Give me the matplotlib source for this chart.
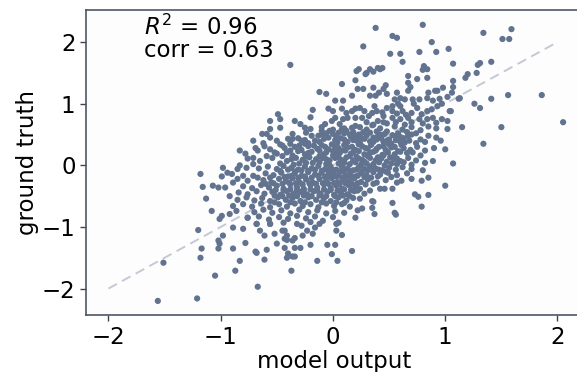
import matplotlib
matplotlib.use("Agg")
import matplotlib.pyplot as plt

# (model output, ground truth) pairs, grouped by region
upper_tail = [
    (-0.38,1.63),(0.38,2.23),(0.80,2.28),(0.53,2.10),(0.57,2.07),(0.88,2.00),(0.27,1.93),(1.34,2.15),
    (1.51,2.05),(1.57,2.05),(1.59,2.21),(0.51,1.81),(0.60,1.81),(0.62,1.68),(0.77,1.84),(0.92,1.84),
    (1.03,1.89),(1.07,1.65),(0.81,1.61),(0.84,1.56),(0.80,1.55),(1.31,1.66),(1.29,1.63),(1.41,1.68),
    (0.21,1.53),(0.23,1.56),(0.29,1.48),(0.33,1.56),(0.36,1.52),(0.42,1.56),(0.40,1.58),(0.44,1.58),
    (0.30,1.50),(0.08,1.32),(0.20,1.38),(0.22,1.24),(0.67,1.45),(0.75,1.40),(0.84,1.42),(0.67,1.34),
    (0.69,1.27),(0.67,1.21),(1.07,1.37),(1.07,1.27),(1.18,1.42),(1.20,1.48),(1.28,1.50),(0.98,1.26),
    (0.91,1.21),(0.85,1.18),(0.93,1.21),(-0.12,1.19),(-0.06,1.16),(0.17,1.13),(0.02,1.05),(0.09,1.05),
    (0.45,1.24),(0.48,1.16),(0.57,1.18),(0.60,1.09),(0.55,1.07),(0.64,1.07),(0.71,1.07),(0.77,1.07),
    (0.84,1.09),(0.89,1.05),(0.95,1.08),(1.02,1.11),(1.06,1.18),(1.13,1.09),(0.27,1.24),(0.33,1.13),
    (0.38,1.13),(0.36,1.26),(0.41,1.18),(0.47,1.30),(1.12,1.08),(1.26,1.00),(1.31,0.93),(1.41,1.08),
    (1.56,1.14),(1.86,1.14),(1.05,0.88),(2.05,0.70),(1.50,0.62),(1.15,0.62),(1.02,0.59),(1.34,0.35),
    (1.07,0.03),(1.00,-0.33),
]

core_upper = [
    (-0.18,0.90),(-0.04,0.92),(0.00,0.88),(0.08,0.92),(0.12,0.85),(0.17,0.88),(0.20,0.92),(0.24,0.93),
    (0.28,0.88),(0.37,0.96),(0.39,0.88),(0.48,0.93),(0.53,0.96),(0.58,1.00),(0.53,0.88),(0.62,0.88),
    (0.75,0.93),(0.79,0.83),(0.84,0.88),(0.88,0.91),(0.93,0.96),(0.97,1.00),(1.04,0.88),
    (-0.49,0.83),(-0.47,0.75),(-0.56,0.72),(-0.34,0.72),(-0.29,0.67),(-0.20,0.78),(-0.07,0.67),(-0.01,0.72),
    (0.02,0.77),(0.06,0.67),(0.09,0.75),(0.13,0.77),(0.20,0.77),(0.26,0.77),(0.32,0.80),(0.40,0.72),
    (0.45,0.80),(0.53,0.77),(0.60,0.75),(0.67,0.77),(0.70,0.70),(0.77,0.75),(0.84,0.75),(0.89,0.77),
    (0.97,0.75),(1.02,0.72),(0.30,0.70),(0.36,0.66),(0.48,0.68),(0.56,0.70),(0.64,0.66),(0.80,0.68),(0.92,0.69),
    (-0.47,0.61),(-0.56,0.59),(-0.25,0.61),(-0.20,0.59),(-0.10,0.62),(0.00,0.58),(0.10,0.60),(0.17,0.61),
    (0.20,0.64),(0.24,0.62),(0.30,0.58),(0.35,0.65),(0.42,0.60),(0.48,0.55),(0.55,0.63),(0.62,0.58),
    (0.70,0.62),(0.78,0.57),(0.85,0.63),(0.92,0.60),(0.39,0.55),(0.58,0.52),(0.66,0.54),(0.74,0.52),(0.27,0.54),
    (-0.63,0.51),(-0.59,0.51),(-0.36,0.51),(-0.40,0.43),(-0.36,0.43),(-0.19,0.48),(-0.13,0.48),(-0.10,0.56),
    (-0.06,0.52),(-0.03,0.56),(0.00,0.51),(0.05,0.53),(0.08,0.59),(0.12,0.56),(0.15,0.50),(0.20,0.47),
    (0.25,0.45),(0.30,0.48),(0.36,0.45),(0.42,0.50),(0.50,0.42),(0.56,0.47),(0.63,0.44),(0.70,0.50),
    (0.78,0.42),(0.85,0.48),(0.92,0.45),(0.45,0.38),(0.52,0.35),(0.60,0.38),(0.68,0.40),(0.74,0.36),
    (0.82,0.38),(-0.71,0.40),(-0.62,0.36),(-0.56,0.45),(-0.50,0.40),(-0.45,0.32),(-0.38,0.35),(-0.28,0.40),
    (-0.22,0.36),(-0.16,0.40),(-0.08,0.43),(0.02,0.41),(0.07,0.44),(0.13,0.38),(0.18,0.41),(0.24,0.37),
    (0.33,0.39),(0.39,0.42),(0.96,0.40),
    (-0.83,0.24),(-0.78,0.19),(-0.69,0.28),(-0.67,0.24),(-0.61,0.31),(-0.56,0.26),(-0.52,0.21),(-0.50,0.19),
    (-0.43,0.28),(-0.38,0.24),(-0.34,0.30),(-0.28,0.25),(-0.22,0.31),(-0.19,0.22),(-0.14,0.27),(-0.10,0.33),
    (-0.04,0.26),(0.02,0.30),(0.08,0.24),(0.13,0.29),(0.20,0.25),(0.26,0.31),(0.31,0.27),(0.36,0.22),
    (0.41,0.30),(0.47,0.25),(0.52,0.29),(0.58,0.23),(0.63,0.28),(0.69,0.25),(0.75,0.30),(0.82,0.24),
    (0.90,0.28),(1.00,0.26),(0.04,0.20),(0.16,0.19),(0.28,0.18),(0.44,0.17),(0.55,0.18),(0.66,0.20),
    (0.78,0.16),(-0.08,0.18),(-0.25,0.18),(-0.36,0.16),
    (-0.76,0.11),(-0.71,0.12),(-0.65,0.07),(-0.59,0.15),(-0.54,0.12),(-0.45,0.15),(-0.41,0.07),(-0.33,0.12),
    (-0.27,0.09),(-0.21,0.13),(-0.15,0.10),(-0.09,0.12),(-0.03,0.08),(0.02,0.12),(0.07,0.09),(0.12,0.13),
    (0.18,0.08),(0.23,0.11),(0.28,0.06),(0.33,0.12),(0.38,0.08),(0.43,0.11),(0.48,0.06),(0.54,0.10),
    (0.60,0.07),(0.67,0.12),(0.74,0.08),(0.82,0.04),(0.89,0.07),(-0.30,0.03),(-0.18,0.04),(-0.06,0.02),
    (0.05,0.03),(0.15,0.02),(0.25,0.01),(0.36,0.02),(0.46,0.00),(0.57,0.02),(0.70,0.01),
    (0.44,0.86),(0.60,0.96),(0.70,0.85),(0.72,1.00),(0.65,0.82),(0.35,0.85),(0.45,0.70),(0.57,0.84),
]

core_dense = [
    (-0.24,0.53),(-0.09,0.50),(0.03,0.47),(0.10,0.52),(0.18,0.54),(0.23,0.50),(0.33,0.53),(0.40,0.47),
    (0.46,0.51),(0.53,0.49),(0.60,0.46),(0.67,0.48),
    (-0.31,0.44),(-0.25,0.41),(-0.12,0.38),(-0.04,0.45),(0.04,0.37),(0.10,0.42),(0.16,0.46),(0.21,0.40),
    (0.28,0.43),(0.36,0.38),(0.43,0.44),(0.48,0.40),(0.56,0.41),(0.64,0.37),
    (-0.47,0.34),(-0.30,0.32),(-0.25,0.35),(-0.17,0.32),(-0.07,0.30),(-0.01,0.34),(0.05,0.28),(0.10,0.33),
    (0.17,0.30),(0.23,0.34),(0.29,0.28),(0.34,0.33),(0.39,0.27),(0.45,0.31),(0.50,0.34),(0.55,0.30),(0.61,0.33),
    (-0.41,0.21),(-0.31,0.23),(-0.22,0.20),(-0.12,0.24),(-0.06,0.21),(0.00,0.23),(0.06,0.20),(0.11,0.24),
    (0.18,0.21),(0.23,0.23),(0.33,0.20),(0.38,0.24),(0.49,0.21),(0.60,0.22),(0.71,0.21),
    (-0.37,0.10),(-0.24,0.14),(-0.12,0.15),(-0.06,0.10),(0.00,0.16),(0.05,0.13),(0.10,0.08),(0.15,0.15),
    (0.21,0.14),(0.26,0.09),(0.31,0.15),(0.40,0.13),(0.45,0.16),(0.51,0.13),(0.57,0.11),
    (-0.47,0.03),(-0.35,0.01),(-0.24,0.04),(-0.12,0.05),(-0.03,0.00),(0.10,0.04),(0.20,0.05),(0.30,0.03),
    (0.41,0.05),(0.52,0.03),(0.63,0.05),
    (-0.47,-0.09),(-0.40,-0.07),(-0.34,-0.10),(-0.28,-0.08),(-0.22,-0.09),(-0.16,-0.07),(-0.10,-0.09),(-0.04,-0.10),
    (0.01,-0.08),(0.06,-0.10),(0.11,-0.08),(0.16,-0.10),(0.21,-0.07),(0.26,-0.10),(0.31,-0.08),(0.36,-0.09),
    (0.41,-0.07),(0.47,-0.10),
    (-0.56,-0.20),(-0.43,-0.19),(-0.37,-0.17),(-0.31,-0.20),(-0.25,-0.18),(-0.19,-0.20),(-0.13,-0.17),(-0.07,-0.19),
    (-0.02,-0.20),(0.03,-0.18),(0.08,-0.20),(0.12,-0.18),(0.17,-0.20),(0.22,-0.17),(0.28,-0.19),(0.34,-0.20),
    (0.40,-0.18),(0.52,-0.19),
    (-0.60,-0.30),(-0.53,-0.29),(-0.45,-0.30),(-0.39,-0.28),(-0.33,-0.29),(-0.27,-0.31),(-0.21,-0.29),(-0.15,-0.30),
    (-0.09,-0.29),(-0.04,-0.30),(0.01,-0.29),(0.06,-0.30),(0.11,-0.29),(0.17,-0.30),(0.22,-0.29),(0.29,-0.31),(0.36,-0.30),
    (-0.51,-0.40),(-0.44,-0.41),(-0.38,-0.39),(-0.32,-0.40),(-0.26,-0.40),(-0.20,-0.39),(-0.14,-0.41),(-0.08,-0.39),
    (-0.02,-0.40),(0.04,-0.41),(0.10,-0.39),(0.16,-0.40),(0.22,-0.41),
    (-0.52,-0.49),(-0.45,-0.50),(-0.39,-0.49),(-0.32,-0.50),(-0.26,-0.49),(-0.19,-0.50),(-0.12,-0.49),(-0.06,-0.50),
    (0.02,-0.50),(0.09,-0.49),(0.15,-0.50),
    (-0.52,-0.60),(-0.38,-0.60),(-0.25,-0.60),(-0.10,-0.60),(0.03,-0.60),(0.10,-0.61),
]

core_lower = [
    (-0.98,-0.04),(-0.83,0.00),(-0.77,-0.04),(-0.71,0.02),(-0.85,-0.06),(-0.94,-0.12),(-0.66,-0.05),(-0.58,-0.02),
    (-0.50,-0.06),(-0.44,-0.01),(-0.37,-0.04),(-0.31,-0.07),(-0.25,-0.02),(-0.19,-0.05),(-0.13,-0.01),(-0.07,-0.06),
    (-0.02,-0.03),(0.03,-0.07),(0.08,-0.02),(0.13,-0.05),(0.18,-0.08),(0.23,-0.03),(0.28,-0.06),(0.33,-0.02),
    (0.38,-0.05),(0.44,-0.08),(0.50,-0.04),(0.56,-0.07),(0.62,-0.03),(0.70,-0.06),(0.80,-0.08),
    (-1.18,-0.14),(-0.99,-0.18),(-0.90,-0.14),(-0.80,-0.17),(-0.71,-0.17),(-0.67,-0.20),(-0.60,-0.13),(-0.53,-0.16),
    (-0.46,-0.12),(-0.40,-0.18),(-0.34,-0.13),(-0.28,-0.17),(-0.22,-0.11),(-0.16,-0.15),(-0.10,-0.12),(-0.05,-0.17),
    (0.00,-0.13),(0.05,-0.16),(0.10,-0.11),(0.15,-0.15),(0.20,-0.18),(0.25,-0.13),(0.30,-0.16),(0.36,-0.11),
    (0.42,-0.15),(0.49,-0.12),(0.57,-0.16),(0.66,-0.13),(0.70,-0.22),(0.85,-0.20),
    (-0.89,-0.28),(-0.85,-0.22),(-0.76,-0.25),(-0.62,-0.24),(-0.55,-0.28),(-0.48,-0.22),(-0.42,-0.26),(-0.36,-0.21),
    (-0.30,-0.27),(-0.24,-0.23),(-0.18,-0.28),(-0.12,-0.22),(-0.06,-0.26),(-0.01,-0.21),(0.04,-0.27),(0.09,-0.23),
    (0.14,-0.26),(0.19,-0.21),(0.25,-0.27),(0.31,-0.23),(0.39,-0.28),(0.47,-0.24),(0.57,-0.28),(0.61,-0.25),(0.79,-0.25),
    (-1.16,-0.35),(-1.07,-0.33),(-1.02,-0.36),(-0.96,-0.36),(-0.80,-0.34),(-0.72,-0.37),(-0.64,-0.32),(-0.57,-0.36),
    (-0.50,-0.33),(-0.44,-0.38),(-0.38,-0.31),(-0.32,-0.35),(-0.26,-0.38),(-0.20,-0.32),(-0.14,-0.36),(-0.08,-0.31),
    (-0.02,-0.37),(0.03,-0.33),(0.08,-0.38),(0.14,-0.32),(0.20,-0.36),(0.24,-0.38),(0.33,-0.41),(0.42,-0.38),
    (0.46,-0.38),(0.53,-0.38),
    (-0.92,-0.50),(-0.84,-0.44),(-0.76,-0.47),(-0.68,-0.42),(-0.61,-0.46),(-0.54,-0.43),(-0.47,-0.48),(-0.41,-0.42),
    (-0.35,-0.46),(-0.29,-0.43),(-0.23,-0.47),(-0.17,-0.42),(-0.11,-0.46),(-0.05,-0.43),(0.01,-0.48),(0.07,-0.44),
    (0.13,-0.47),(0.19,-0.42),(0.28,-0.46),
    (-1.13,-0.54),(-0.85,-0.56),(-0.77,-0.52),(-0.70,-0.57),(-0.63,-0.53),(-0.56,-0.58),(-0.49,-0.52),(-0.42,-0.56),
    (-0.36,-0.53),(-0.29,-0.58),(-0.22,-0.52),(-0.15,-0.56),(-0.08,-0.53),(-0.02,-0.58),(0.05,-0.52),(0.12,-0.57),
    (0.18,-0.53),(0.24,-0.54),(0.35,-0.58),
    (-0.89,-0.66),(-0.80,-0.63),(-0.72,-0.67),(-0.64,-0.62),(-0.56,-0.68),(-0.48,-0.63),(-0.41,-0.67),(-0.34,-0.62),
    (-0.27,-0.66),(-0.20,-0.63),(-0.13,-0.68),(-0.06,-0.62),(0.01,-0.66),(0.08,-0.63),(0.15,-0.67),(0.26,-0.70),
    (-1.08,-0.74),(-0.86,-0.74),(-0.92,-0.79),(-0.70,-0.76),(-0.62,-0.72),(-0.54,-0.77),(-0.46,-0.73),(-0.38,-0.78),
    (-0.30,-0.72),(-0.22,-0.76),(-0.14,-0.73),(-0.06,-0.78),(0.02,-0.74),(0.10,-0.77),
    (-1.01,-0.87),(-0.99,-0.82),(-0.76,-0.85),(-0.66,-0.83),(-0.57,-0.88),(-0.48,-0.84),(-0.40,-0.87),(-0.32,-0.82),
    (-0.24,-0.86),(-0.16,-0.83),(0.00,-0.84),
    (-0.68,-0.95),(-0.56,-0.95),(-0.44,-0.93),(-0.32,-0.95),(-0.28,-0.98),(-0.20,-0.92),
    (0.85,-0.48),(0.79,-0.67),(0.73,-0.47),(0.76,-0.51),(0.55,-0.77),(0.56,-0.80),(0.53,-0.61),(0.37,-0.79),
    (0.35,-0.69),(0.36,-0.59),(0.22,-0.73),(0.20,-0.85),(0.05,-0.93),(0.03,-0.95),(-0.16,-1.01),(-0.12,-0.95),(-0.09,-0.90),
]

lower_tail = [
    (-1.56,-2.20),(-1.21,-2.16),(-1.51,-1.58),(-0.67,-1.97),(-1.05,-1.79),(-0.87,-1.71),(-1.18,-1.50),(-1.17,-1.35),
    (-1.20,-1.05),(-1.02,-1.22),(-1.02,-1.35),(-1.01,-1.27),(-0.83,-1.55),(-0.89,-1.35),(-0.78,-1.26),(-0.69,-1.40),
    (-0.68,-1.42),(-0.61,-1.53),(-0.59,-1.37),(-0.50,-1.27),(-0.41,-1.21),(-0.43,-1.34),(-0.37,-1.71),(-0.34,-1.48),
    (-0.41,-1.50),(-0.36,-1.48),(-0.40,-1.43),(-0.34,-1.34),(-0.29,-1.34),(-0.14,-1.55),(-0.20,-1.29),(0.17,-1.39),
    (0.04,-1.55),(-0.01,-1.44),(0.02,-1.29),(-0.05,-1.29),(0.08,-1.13),(0.03,-1.06),(-0.18,-1.11),(-0.23,-1.06),
    (-0.27,-1.14),(-0.43,-1.19),(-0.43,-1.06),(-0.34,-1.18),(-0.98,-1.14),(-0.61,-1.14),(-0.52,-1.11),(-0.45,-1.06),
    (-0.41,-1.14),(-0.36,-1.22),(-0.89,-1.01),(-0.80,-1.03),(-0.65,-1.06),(-0.76,-0.85),(-0.68,-0.95),(-0.56,-0.95),
]

r2_text = "$R^2$ = 0.96"
corr_text = "corr = 0.63"
x_label = "model output"
y_label = "ground truth"
ticks = [-2, -1, 0, 1, 2]
ref_line = [-2, 2]

points = upper_tail + core_upper + core_dense + core_lower + lower_tail
model_output = [p[0] for p in points]
ground_truth = [p[1] for p in points]

fig = plt.figure(figsize=(5.77, 3.72), dpi=100)
ax = fig.add_axes([0.149, 0.153, 0.86, 0.82])
ax.set_facecolor("#fdfdfe")

ax.plot(ref_line, ref_line, linestyle=(0, (5, 3)), color="#c4c9d4", lw=1.4, zorder=1)
ax.scatter(model_output, ground_truth, s=20, color="#62738f", edgecolors="none", zorder=2)

ax.set_xticks(ticks)
ax.set_yticks(ticks)
ax.set_xlim(-2.2, 2.22)
ax.set_ylim(-2.43, 2.52)
ax.tick_params(labelsize=16.5, length=4, width=1, color="#3c4350")
for s in ax.spines.values():
    s.set_color("#4d5566")
    s.set_linewidth(1.2)

ax.set_xlabel(x_label, fontsize=16.5, labelpad=1)
ax.set_ylabel(y_label, fontsize=16.5, labelpad=2)
ax.text(0.116, 0.985, r2_text + "\n" + corr_text, transform=ax.transAxes,
        fontsize=16.5, va="top", ha="left", linespacing=0.95)

fig.savefig("out.png", dpi=100)
